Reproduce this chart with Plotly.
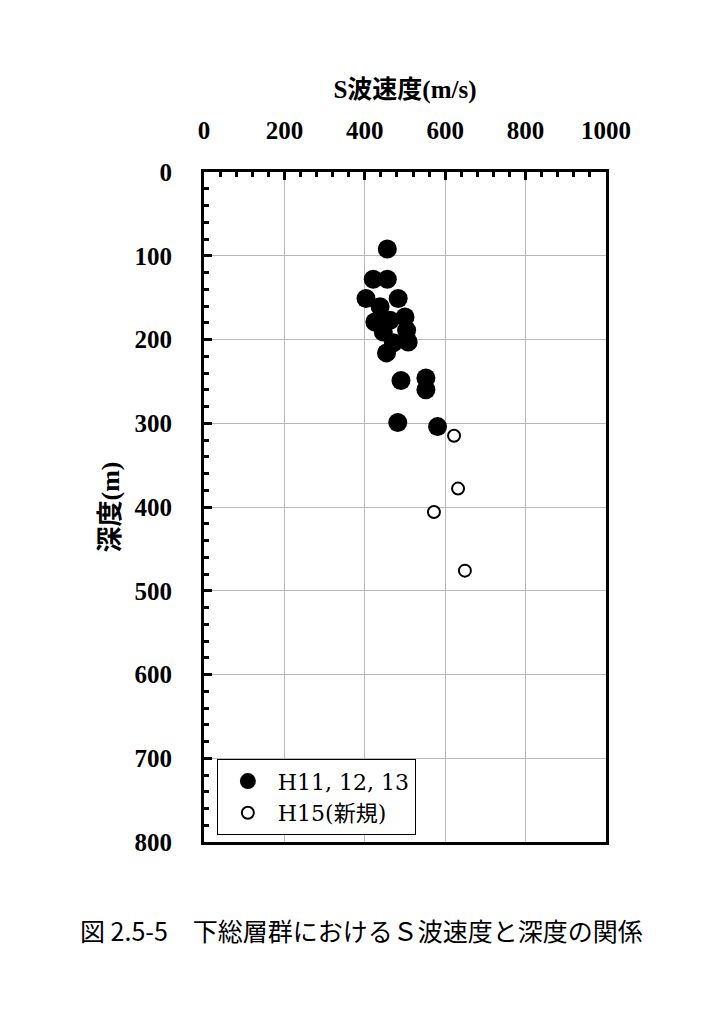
import plotly.graph_objects as go

# H11, 12, 13 (filled)
vs_old = [456, 421, 456, 403, 483, 438, 500, 425, 463, 504, 446, 508, 471, 454, 490, 552, 552, 482, 581]
depth_old = [92, 128, 128, 151, 151, 161, 173, 179, 177, 189, 191, 203, 204, 216, 249, 246, 260, 299, 304]
# H15 (新規) (open)
vs_new = [622, 632, 572, 649]
depth_new = [315, 378, 406, 476]

x_title = "S波速度(m/s)"
y_title = "深度(m)"
names = ["H11, 12, 13", "H15(新規)"]
caption = "図 2.5-5　下総層群におけるＳ波速度と深度の関係"

serif = "Liberation Serif, Noto Sans CJK JP"

fig = go.Figure()
fig.add_trace(go.Scatter(x=vs_old, y=depth_old, mode="markers", name=names[0],
                         marker=dict(size=19, color="black", line=dict(width=0))))
fig.add_trace(go.Scatter(x=vs_new, y=depth_new, mode="markers", name=names[1],
                         marker=dict(size=12, color="white", line=dict(width=2, color="black"))))

axis_common = dict(showline=True, linewidth=3, linecolor="black", mirror=True,
                   showgrid=True, gridcolor="#b8b8b8", gridwidth=1, zeroline=False,
                   ticks="inside", ticklen=8, tickwidth=3, tickcolor="black",
                   tickfont=dict(family=serif, size=25, color="black", weight="bold"))

fig.update_xaxes(range=[0, 1000], dtick=200, side="top", ticklabelstandoff=20,
                 minor=dict(dtick=40, ticks="inside", ticklen=5, tickwidth=3, tickcolor="black", showgrid=False),
                 title=dict(text="<b>" + x_title + "</b>", font=dict(family=serif, size=25, color="black"), standoff=12),
                 **axis_common)
fig.update_yaxes(range=[800, 0], dtick=100, ticklabelstandoff=24,
                 minor=dict(dtick=20, ticks="inside", ticklen=5, tickwidth=3, tickcolor="black", showgrid=False),
                 title=dict(text="<b>" + y_title + "</b>", font=dict(family=serif, size=26, color="black"), standoff=8),
                 **axis_common)

fig.add_annotation(text=caption, xref="paper", yref="paper", x=-0.313, y=-0.131,
                   xanchor="left", yanchor="middle", showarrow=False,
                   font=dict(family="Noto Sans CJK JP", size=25, color="black"))

fig.update_layout(width=723, height=1027,
                  margin=dict(l=196, r=125, t=164, b=193),
                  paper_bgcolor="white", plot_bgcolor="white",
                  showlegend=True,
                  legend=dict(x=0.032, y=0.01, xanchor="left", yanchor="bottom",
                              bgcolor="white", bordercolor="black", borderwidth=1,
                              font=dict(family="DejaVu Serif, Noto Sans CJK JP", size=22, color="black"),
                              itemwidth=50, tracegroupgap=0))

fig.write_html("out.html")
